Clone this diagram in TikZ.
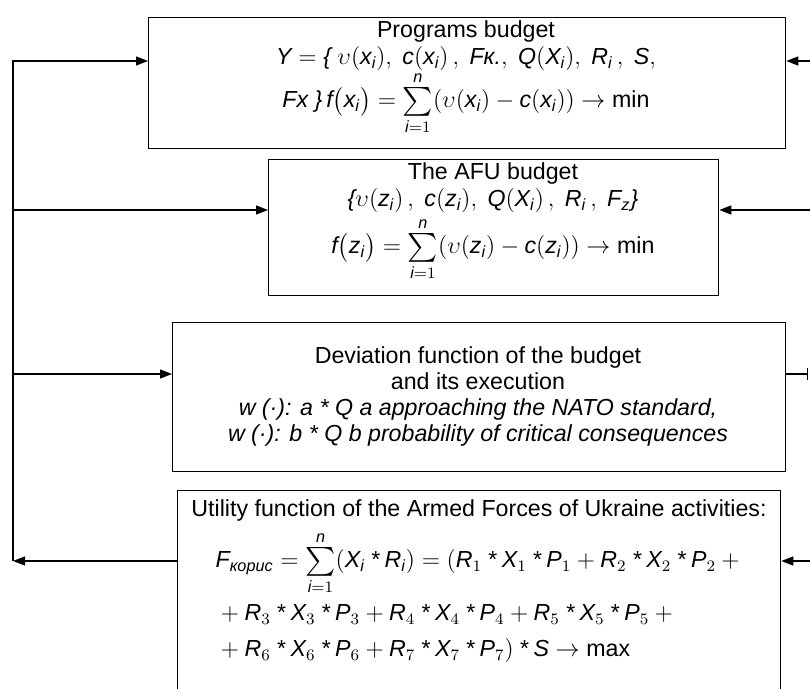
\documentclass[tikz,border=0pt]{standalone}
\usepackage{amsmath}
\usepackage{fontspec}
\setmainfont{Liberation Sans}
\usetikzlibrary{arrows.meta}

\newcommand{\iv}[1]{\textit{#1}}
\newcommand{\ix}[2]{\textit{#1}_{\textit{#2}}}
\newcommand{\tm}{\mathbin{\textit{*}}}
\newcommand{\bsum}{\mathop{\vcenter{\hbox{\fontsize{14.5}{15}\selectfont$\sum$}}}\limits}

\begin{document}
\begin{tikzpicture}[x=0.5pt, y=-0.5pt, line width=0.65pt,
  >={Triangle[length=6pt, width=4.5pt]},
  box/.style={draw, anchor=north west, inner sep=0pt},
  txt/.style={inner sep=0pt, anchor=base, font=\fontsize{11.6}{13}\selectfont}]
  \useasboundingbox (0,0) rectangle (810,689);
  \clip (0,0) rectangle (810,689);

  % boxes
  \node[box, minimum width=318.5pt, minimum height=65.5pt] (prog) at (148,17) {};
  \node[box, minimum width=225pt, minimum height=68pt] (afu) at (268,159) {};
  \node[box, minimum width=306.5pt, minimum height=74.5pt] (dev) at (172,322) {};
  \node[box, minimum width=301.5pt, minimum height=110pt] (util) at (177,490) {};

  % Programs budget
  \node[txt] (prog-t1) at (466,38) {Programs budget};
  \node[txt] (prog-t2) at (466,65) {$\iv{Y} = \iv{\{}\ \upsilon(\ix{x}{i}),\ \iv{c}(\ix{x}{i})\,,\ \iv{Fк.},\ \iv{Q}(\ix{X}{i}),\ \ix{R}{i}\,,\ \iv{S},$};
  \node[txt] (prog-t3) at (466,108) {$\iv{Fx}\ \iv{\}}\,\iv{f}\bigl(\ix{x}{i}\bigr) = \bsum_{\iv{i}=1}^{\iv{n}}(\upsilon(\ix{x}{i}) - \iv{c}(\ix{x}{i})) \to \text{min}$};

  % The AFU budget
  \node[txt] (afu-t1) at (493,180) {The AFU budget};
  \node[txt] (afu-t2) at (493,207) {$\iv{\{}\upsilon(\ix{z}{i})\,,\ \iv{c}(\ix{z}{i}),\ \iv{Q}(\ix{X}{i})\,,\ \ix{R}{i}\,,\ \ix{F}{z}\iv{\}}$};
  \node[txt] (afu-t3) at (493,254) {$\iv{f}\bigl(\ix{z}{i}\bigr) = \bsum_{\iv{i}=1}^{\iv{n}}(\upsilon(\ix{z}{i}) - \iv{c}(\ix{z}{i})) \to \text{min}$};

  % Deviation function
  \node[txt] (dev-t1) at (478,364) {Deviation function of the budget};
  \node[txt] (dev-t2) at (478,390) {and its execution};
  \node[txt] (dev-t3) at (478,416) {\itshape w (·): a * Q a approaching the NATO standard,};
  \node[txt] (dev-t4) at (478,442) {\itshape w (·): b * Q b probability of critical consequences};

  % Utility function
  \node[txt] (util-t1) at (479,517) {Utility function of the Armed Forces of Ukraine activities:};
  \node[txt, anchor=base west] (util-t2) at (215,568) {$\iv{F}_{\iv{корис}} = \bsum_{\iv{i}=1}^{\iv{n}}(\ix{X}{i}\tm\ix{R}{i}) = (\iv{R}_1\tm\iv{X}_1\tm\iv{P}_1 + \iv{R}_2\tm\iv{X}_2\tm\iv{P}_2 +{}$};
  \node[txt, anchor=base west] (util-t3) at (215,621) {${}+\iv{R}_3\tm\iv{X}_3\tm\iv{P}_3 + \iv{R}_4\tm\iv{X}_4\tm\iv{P}_4 + \iv{R}_5\tm\iv{X}_5\tm\iv{P}_5 +{}$};
  \node[txt, anchor=base west] (util-t4) at (215,657) {${}+\iv{R}_6\tm\iv{X}_6\tm\iv{P}_6 + \iv{R}_7\tm\iv{X}_7\tm\iv{P}_7)\tm\iv{S} \to \text{max}$};

  % left bus
  \coordinate (bus1) at (13,61);
  \coordinate (bus2) at (13,210);
  \coordinate (bus3) at (13,374);
  \coordinate (bus4) at (13,561);
  \draw[->] (bus4) -- (bus1) -- (bus1 -| prog.west);
  \draw[->] (bus2) -- (bus2 -| afu.west);
  \draw[->] (bus3) -- (bus3 -| dev.west);
  \draw[->] (bus4 -| util.west) -- (bus4);

  % right side
  \coordinate (r1) at (810,61);
  \coordinate (r2) at (810,210);
  \coordinate (r3) at (808,374);
  \coordinate (r4) at (810,561);
  \draw[->] (r1) -- (r1 -| prog.east);
  \draw[->] (r2) -- (r2 -| afu.east);
  \draw[-{Bar[width=6pt]}] (r3 -| dev.east) -- (r3);
  \draw[->] (r4) -- (r4 -| util.east);
\end{tikzpicture}
\end{document}
